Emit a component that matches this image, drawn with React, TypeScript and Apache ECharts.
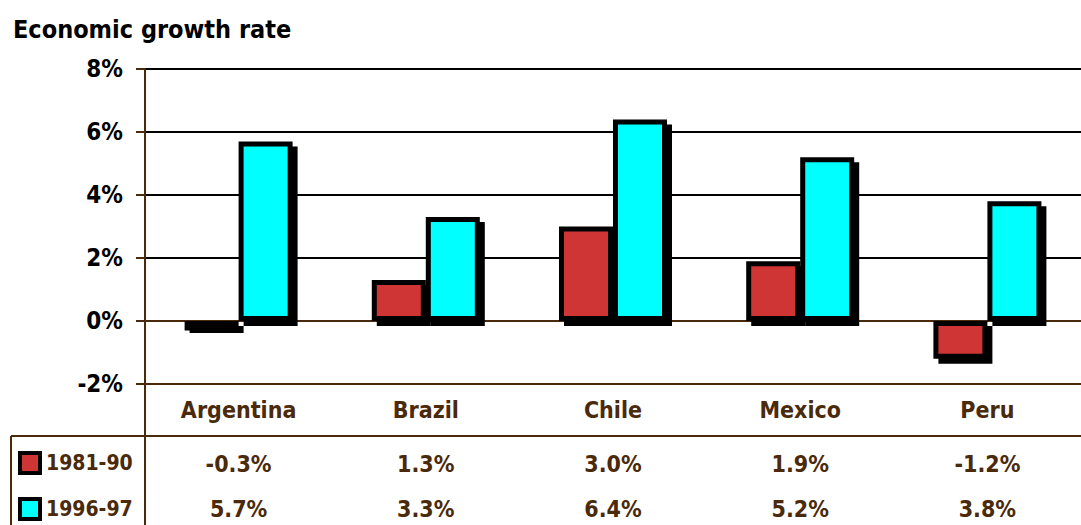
import React, { useEffect, useRef } from "react";
import * as echarts from "echarts";

const categories = ["Argentina", "Brazil", "Chile", "Mexico", "Peru"];
const seriesNames = ["1981-90", "1996-97"];
const growth1981_90 = [-0.3, 1.3, 3.0, 1.9, -1.2];
const growth1996_97 = [5.7, 3.3, 6.4, 5.2, 3.8];
const yMin = -2;
const yMax = 8;
const yInterval = 2;

const FONT = "'Liberation Sans Narrow', 'Arial Narrow', 'DejaVu Sans Condensed', sans-serif";
const BROWN = "#4a2a0a";
const RED = "#cf3535";
const CYAN = "#00ffff";
const TXT = 23;

const fmt = (v: number) => `${v.toFixed(1)}%`;

export default function App() {
  const ref = useRef<HTMLDivElement>(null);
  useEffect(() => {
    if (!ref.current) return;
    const chart = echarts.init(ref.current, undefined, { renderer: "svg" });
    const barStyle = (color: string) => ({
      color,
      borderColor: "#000",
      borderWidth: 5,
      shadowColor: "#000",
      shadowBlur: 0,
      shadowOffsetX: 5,
      shadowOffsetY: 5,
    });
    const tableAxis = (vals: number[], gap: number) => ({
      type: "category",
      data: vals.map(fmt),
      position: "bottom",
      offset: 0,
      gridIndex: 0,
      axisLine: { show: false },
      axisTick: { show: false },
      splitLine: { show: false },
      axisLabel: {
        margin: gap,
        color: BROWN,
        fontFamily: FONT,
        fontWeight: "bold",
        fontSize: TXT,
        lineHeight: 26,
        interval: 0,
      },
    });
    const legendFor = (name: string, top: number) => ({
      orient: "horizontal",
      left: 18,
      top,
      padding: 0,
      icon: "rect",
      itemWidth: 20,
      itemHeight: 20,
      itemStyle: { borderColor: "#000", borderWidth: 4, shadowBlur: 0, shadowOffsetX: 0, shadowOffsetY: 0 },
      textStyle: { color: BROWN, fontFamily: FONT, fontWeight: "bold", fontSize: 21, lineHeight: 26, padding: [0, 0, 0, 1] },
      data: [name],
      selectedMode: false,
    });
    chart.setOption({
      animation: false,
      backgroundColor: "#fff",
      title: {
        text: "Economic growth rate",
        left: 8,
        top: 12,
        textStyle: { color: "#000", fontFamily: FONT, fontWeight: "bold", fontSize: 25 },
      },
      grid: { left: 145, top: 69, width: 945, height: 315, containLabel: false },
      legend: [legendFor(seriesNames[0], 450), legendFor(seriesNames[1], 496)],
      xAxis: [
        {
          type: "category",
          data: categories,
          position: "bottom",
          axisLine: { onZero: false, lineStyle: { color: BROWN, width: 2 } },
          axisTick: { show: false },
          axisLabel: {
            margin: 13,
            color: BROWN,
            fontFamily: FONT,
            fontWeight: "bold",
            fontSize: TXT,
            lineHeight: 26,
            interval: 0,
          },
        },
        tableAxis(growth1981_90, 67),
        tableAxis(growth1996_97, 112),
      ],
      yAxis: {
        type: "value",
        min: yMin,
        max: yMax,
        interval: yInterval,
        axisLine: { show: true, lineStyle: { color: BROWN, width: 2 } },
        axisTick: { show: true, length: 9, lineStyle: { color: BROWN, width: 2 } },
        axisLabel: {
          margin: 22,
          color: "#000",
          fontFamily: FONT,
          fontWeight: "bold",
          fontSize: 24,
          formatter: (v: number) => `${v}%`,
        },
        splitLine: {
          show: true,
          lineStyle: { width: 2, color: [BROWN, BROWN, "#000", "#000", "#000", "#000"] },
        },
      },
      graphic: [
        { type: "line", shape: { x1: 11, y1: 436, x2: 1081, y2: 436 }, style: { stroke: BROWN, lineWidth: 2 } },
        { type: "line", shape: { x1: 11, y1: 436, x2: 11, y2: 525 }, style: { stroke: BROWN, lineWidth: 2 } },
        { type: "line", shape: { x1: 145, y1: 384, x2: 145, y2: 525 }, style: { stroke: BROWN, lineWidth: 2 } },
      ],
      series: [
        {
          name: seriesNames[0],
          type: "bar",
          data: growth1981_90,
          barWidth: 54,
          barGap: "0%",
          itemStyle: barStyle(RED),
        },
        {
          name: seriesNames[1],
          type: "bar",
          data: growth1996_97,
          barWidth: 54,
          barGap: "0%",
          itemStyle: barStyle(CYAN),
        },
      ],
    });
    return () => chart.dispose();
  }, []);
  return (
    <div
      ref={ref}
      style={{ position: "absolute", left: 0, top: 0, width: 1081, height: 525 }}
    />
  );
}
